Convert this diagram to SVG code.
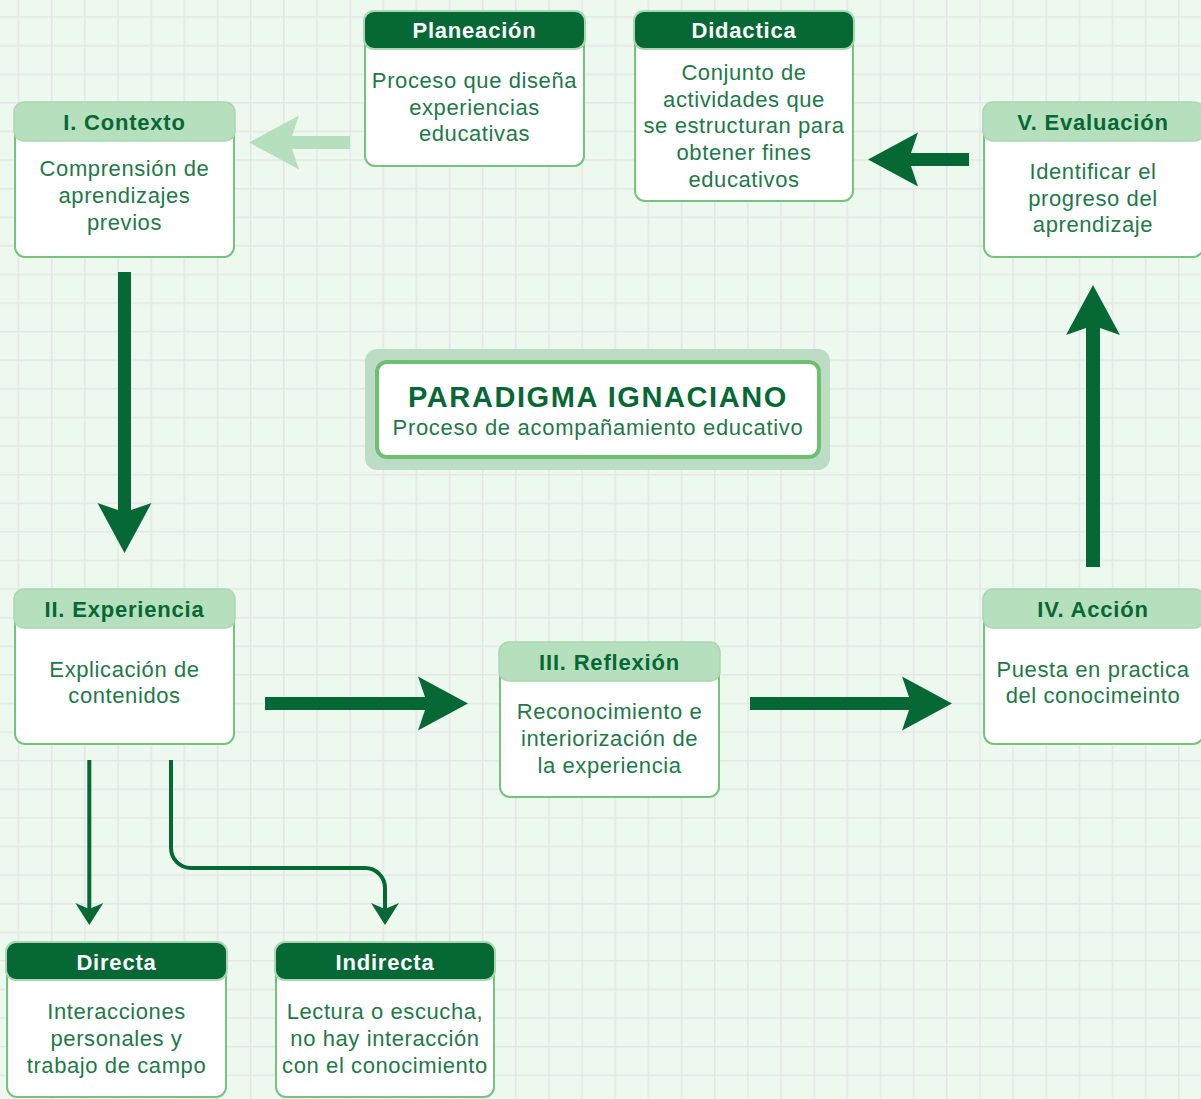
<svg xmlns="http://www.w3.org/2000/svg" width="1201" height="1099" viewBox="0 0 1201 1099">
<style>
.box{fill:#ffffff;stroke:#74c47c;stroke-width:2}
.hl{fill:#b6dfbd;stroke:#a9d8b0;stroke-width:1.5}
.hd{fill:#066835;stroke:#a9d8b0;stroke-width:2}
.ht{font-family:"Liberation Sans",Arial,sans-serif;font-weight:bold;font-size:22px;letter-spacing:0.8px;text-anchor:middle;fill:#066835}
.hw{font-family:"Liberation Sans",Arial,sans-serif;font-weight:bold;font-size:22px;letter-spacing:0.8px;text-anchor:middle;fill:#ffffff}
.bt{font-family:"Liberation Sans",Arial,sans-serif;font-size:22px;letter-spacing:0.6px;text-anchor:middle;fill:#1d7a47}
.big{fill:#066835}
.thin{fill:none;stroke:#066835;stroke-width:4;marker-end:url(#ah)}
</style>
<defs>
<pattern id="grid" patternUnits="userSpaceOnUse" x="17.8" y="16.3" width="33.15" height="28.6">
<rect x="0" y="0" width="1.5" height="28.6" fill="#e4e6e6"/>
<rect x="0" y="0" width="33.15" height="1.5" fill="#e4e6e6"/>
</pattern>
<marker id="ah" markerUnits="userSpaceOnUse" viewBox="-1 -15 24 30" markerWidth="24" markerHeight="30" refX="12" refY="0" orient="auto">
<path d="M22,0 L0,-14 L6,0 L0,14 Z" fill="#066835"/>
</marker>
</defs>
<rect width="1201" height="1099" fill="#edf9ef"/>
<rect width="1201" height="1099" fill="url(#grid)"/>

<g id="connectors">
<polygon class="big" points="118,272 131,272 131,510 151.5,503 124.5,553 97.5,503 118,510"/>
<polygon class="big" points="265,697 425,697 418,676.5 468,703.5 418,730.5 425,710 265,710"/>
<polygon class="big" points="750,697 909,697 902,676.5 952,703.5 902,730.5 909,710 750,710"/>
<polygon class="big" points="1086,567 1086,328 1066,335 1093,285 1120,335 1100,328 1100,567"/>
<polygon class="big" points="969,153 911,153 918,132.5 868,159.5 918,186.5 911,166 969,166"/>
<polygon fill="#b6dfbd" points="350,136 292,136 299,115.5 249,142.5 299,169.5 292,149 350,149"/>
<path class="thin" d="M89.3,760 V915"/>
<path class="thin" d="M171,760 V848 A20,20 0 0 0 191,868 H365 A20,20 0 0 1 385,888 V915"/>
</g>

<g id="title">
<rect x="365" y="349" width="465" height="121" rx="12" fill="#bddcc5"/>
<rect x="377" y="362" width="442" height="95" rx="10" fill="#ffffff" stroke="#6cc070" stroke-width="4"/>
<text x="598" y="407" style="font-family:'Liberation Sans',Arial,sans-serif;font-weight:bold;font-size:29px;letter-spacing:1.6px;text-anchor:middle;fill:#066835">PARADIGMA IGNACIANO</text>
<text x="598" y="435" class="bt" style="letter-spacing:0.7px;fill:#1d7a47">Proceso de acompañamiento educativo</text>
</g>

<g id="contexto">
<rect class="box" x="15" y="103" width="219" height="154" rx="10"/>
<rect class="hl" x="14" y="102" width="221" height="39" rx="10"/>
<text class="ht" x="124.5" y="130">I. Contexto</text>
<text class="bt" x="124.5" y="176">Comprensión de</text>
<text class="bt" x="124.5" y="203">aprendizajes</text>
<text class="bt" x="124.5" y="230">previos</text>
</g>

<g id="planeacion">
<rect class="box" x="365" y="12" width="219" height="154" rx="10"/>
<rect class="hd" x="364" y="11" width="221" height="38" rx="10"/>
<text class="hw" x="474.5" y="38">Planeación</text>
<text class="bt" x="474.5" y="88">Proceso que diseña</text>
<text class="bt" x="474.5" y="115">experiencias</text>
<text class="bt" x="474.5" y="141">educativas</text>
</g>

<g id="didactica">
<rect class="box" x="635" y="12" width="218" height="189" rx="10"/>
<rect class="hd" x="634" y="11" width="220" height="38" rx="10"/>
<text class="hw" x="744" y="38">Didactica</text>
<text class="bt" x="744" y="80">Conjunto de</text>
<text class="bt" x="744" y="107">actividades que</text>
<text class="bt" x="744" y="133">se estructuran para</text>
<text class="bt" x="744" y="160">obtener fines</text>
<text class="bt" x="744" y="187">educativos</text>
</g>

<g id="evaluacion">
<rect class="box" x="984" y="103" width="219" height="154" rx="10"/>
<rect class="hl" x="983" y="102" width="221" height="39" rx="10"/>
<text class="ht" x="1093" y="130">V. Evaluación</text>
<text class="bt" x="1093" y="179">Identificar el</text>
<text class="bt" x="1093" y="206">progreso del</text>
<text class="bt" x="1093" y="232">aprendizaje</text>
</g>

<g id="experiencia">
<rect class="box" x="15" y="590" width="219" height="154" rx="10"/>
<rect class="hl" x="14" y="589" width="221" height="39" rx="10"/>
<text class="ht" x="124.5" y="617">II. Experiencia</text>
<text class="bt" x="124.5" y="677">Explicación de</text>
<text class="bt" x="124.5" y="703">contenidos</text>
</g>

<g id="reflexion">
<rect class="box" x="500" y="643" width="219" height="154" rx="10"/>
<rect class="hl" x="499" y="642" width="221" height="39" rx="10"/>
<text class="ht" x="609.5" y="670">III. Reflexión</text>
<text class="bt" x="609.5" y="719">Reconocimiento e</text>
<text class="bt" x="609.5" y="746">interiorización de</text>
<text class="bt" x="609.5" y="773">la experiencia</text>
</g>

<g id="accion">
<rect class="box" x="984" y="590" width="219" height="154" rx="10"/>
<rect class="hl" x="983" y="589" width="221" height="39" rx="10"/>
<text class="ht" x="1093" y="617">IV. Acción</text>
<text class="bt" x="1093" y="677">Puesta en practica</text>
<text class="bt" x="1093" y="703">del conocimeinto</text>
</g>

<g id="directa">
<rect class="box" x="7" y="943" width="219" height="154" rx="10"/>
<rect class="hd" x="6" y="942" width="221" height="38" rx="10"/>
<text class="hw" x="116.5" y="970">Directa</text>
<text class="bt" x="116.5" y="1019">Interacciones</text>
<text class="bt" x="116.5" y="1046">personales y</text>
<text class="bt" x="116.5" y="1073">trabajo de campo</text>
</g>

<g id="indirecta">
<rect class="box" x="276" y="943" width="218" height="154" rx="10"/>
<rect class="hd" x="275" y="942" width="220" height="38" rx="10"/>
<text class="hw" x="385" y="970">Indirecta</text>
<text class="bt" x="385" y="1019">Lectura o escucha,</text>
<text class="bt" x="385" y="1046">no hay interacción</text>
<text class="bt" x="385" y="1073">con el conocimiento</text>
</g>
</svg>
